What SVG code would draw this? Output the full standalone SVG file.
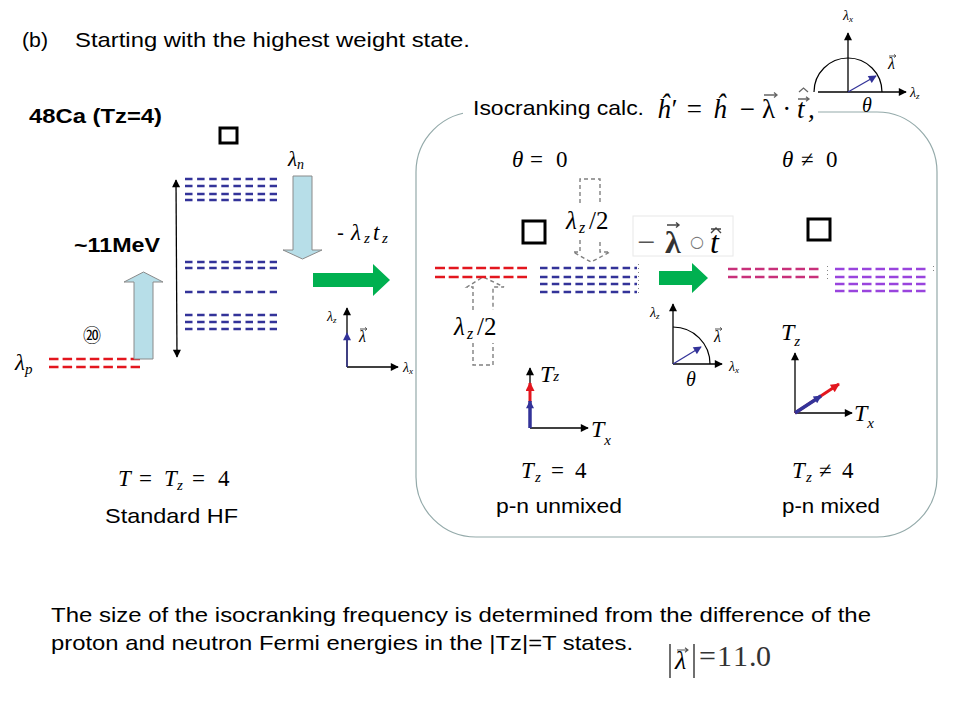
<svg xmlns="http://www.w3.org/2000/svg" width="960" height="720" viewBox="0 0 960 720">
<style>
.t{font-family:"Liberation Sans",Arial,sans-serif;fill:#000;font-size:21px}
.b{font-weight:bold}
.m{font-family:"Liberation Serif","Times New Roman",serif;font-style:italic;fill:#000}
.u{font-family:"Liberation Serif","Times New Roman",serif;font-style:normal}
.ax{stroke:#000;stroke-width:1.3;fill:none;marker-end:url(#ak)}
.vb{stroke:#333399;stroke-width:1.3;fill:none;marker-end:url(#ab)}
.lb{stroke:#333399;stroke-width:2.5;fill:none}
.lr{stroke:#E3161E;stroke-width:2.5;fill:none}
.lm{stroke:#C8307A;stroke-width:2.5;fill:none}
.lp{stroke:#9944DD;stroke-width:2.5;fill:none}
.gd{stroke:#808080;stroke-width:1.4;fill:none;stroke-dasharray:4 3}
.sq{fill:none;stroke:#000;stroke-width:3}
.acc{stroke:#555;stroke-width:1;fill:none}
.big{fill:#B7DEE8;stroke:#8a8a8a;stroke-width:1}
.grn{fill:#00B050}
</style>
<defs>
<marker id="ak" viewBox="0 0 10 10" refX="9" refY="5" markerWidth="9" markerHeight="8" orient="auto" markerUnits="userSpaceOnUse"><path d="M0,0L10,5L0,10z" fill="#000"/></marker>
<marker id="ab" viewBox="0 0 10 10" refX="9" refY="5" markerWidth="10" markerHeight="8" orient="auto" markerUnits="userSpaceOnUse"><path d="M0,0L10,5L0,10z" fill="#333399"/></marker>
<marker id="ar" viewBox="0 0 10 10" refX="9" refY="5" markerWidth="10" markerHeight="9" orient="auto" markerUnits="userSpaceOnUse"><path d="M0,0L10,5L0,10z" fill="#E3161E"/></marker>
<marker id="ad" viewBox="0 0 10 10" refX="9" refY="5" markerWidth="9" markerHeight="8" orient="auto-start-reverse" markerUnits="userSpaceOnUse"><path d="M0,0L10,5L0,10z" fill="#000"/></marker>
</defs>
<rect width="960" height="720" fill="#fff"/>

<g id="title">
<text class="t" x="22" y="47" textLength="26" lengthAdjust="spacingAndGlyphs">(b)</text>
<text class="t" x="75" y="47" textLength="395" lengthAdjust="spacingAndGlyphs">Starting with the highest weight state.</text>
</g>

<g id="hf-levels">
<text class="t b" x="29" y="123" textLength="133" lengthAdjust="spacingAndGlyphs">48Ca (Tz=4)</text>
<rect class="sq" x="220" y="128" width="17" height="15" stroke-width="2.5"/>
<g class="lb" stroke-dasharray="7.5 4.6">
<line x1="185" y1="179" x2="277" y2="179"/>
<line x1="185" y1="186" x2="277" y2="186"/>
<line x1="185" y1="194" x2="277" y2="194"/>
<line x1="185" y1="200" x2="277" y2="200"/>
<line x1="185" y1="262" x2="277" y2="262"/>
<line x1="185" y1="268" x2="277" y2="268"/>
<line x1="185" y1="292" x2="277" y2="292"/>
<line x1="185" y1="315" x2="277" y2="315"/>
<line x1="185" y1="322" x2="277" y2="322"/>
<line x1="185" y1="329" x2="277" y2="329"/>
</g>
<g class="lr" stroke-dasharray="9.5 4.1">
<line x1="49" y1="359" x2="140" y2="359"/>
<line x1="49" y1="367" x2="140" y2="367"/>
</g>
<text class="m" x="15" y="370" font-size="23">λ<tspan font-size="15" dy="4">p</tspan></text>
<text class="m" x="288" y="166" font-size="21">λ<tspan font-size="14" dy="3">n</tspan></text>
<text x="92" y="342" text-anchor="middle" font-family="'Noto Sans CJK JP','DejaVu Sans',sans-serif" font-size="18">⑳</text>
<text class="t b" x="74" y="252" textLength="86" lengthAdjust="spacingAndGlyphs">~11MeV</text>
<line x1="176" y1="180" x2="177" y2="357" stroke="#000" stroke-width="1.3" marker-start="url(#ad)" marker-end="url(#ad)"/>
<text y="240" font-size="23"><tspan class="t" x="337" font-size="21">-</tspan><tspan class="m" x="351">λ</tspan><tspan class="m" x="364" font-size="15" dy="3">z</tspan><tspan class="m" x="373" dy="-3">t</tspan><tspan class="m" x="382" font-size="15" dy="3">z</tspan></text>
<g id="axes-left">
<line class="ax" x1="347" y1="367" x2="347" y2="308"/>
<line class="ax" x1="347" y1="367" x2="398" y2="367"/>
<line class="vb" x1="347" y1="367" x2="347" y2="333"/>
<text class="m" x="327" y="321" font-size="14">λ<tspan font-size="9" dy="2">z</tspan></text>
<text class="m" x="359" y="342" font-size="16" fill="#444">λ</text>
<path class="acc" d="M360,329h7m-2,-1.6l2,1.6l-2,1.6"/>
<text class="m" x="403" y="372" font-size="14">λ<tspan font-size="9" dy="2">x</tspan></text>
</g>
<text y="486" font-size="23"><tspan class="m" x="118">T</tspan><tspan class="u" x="139">=</tspan><tspan class="m" x="164">T</tspan><tspan class="m" x="177" font-size="15" dy="4">z</tspan><tspan class="u" x="192" dy="-4">=</tspan><tspan class="u" x="218">4</tspan></text>
<text class="t" x="105" y="523" textLength="133" lengthAdjust="spacingAndGlyphs">Standard HF</text>
</g>

<g id="connectors">
<polygon class="big" points="134,359 134,282 124,282 143.5,272 163,282 153,282 153,359"/>
<polygon class="big" points="293,176 312,176 312,250 322,250 302.5,259 283,250 293,250"/>
<polygon class="grn" points="313,273 373,273 373,264 390,280 373,296 373,287 313,287"/>
<polygon class="grn" points="659,271 692,271 692,263 708,278 692,293 692,285 659,285"/>
</g>

<g id="isocranking">
<rect x="416" y="112" width="521" height="425" rx="60" ry="60" fill="none" stroke="#94AAAA" stroke-width="1.2"/>
<rect x="463" y="96" width="355" height="28" fill="#fff"/>
<text class="t" x="473" y="115" textLength="171" lengthAdjust="spacingAndGlyphs">Isocranking calc.</text>
<text class="m" font-size="27" fill="#666" x="657 670 685 713 738 762 783 797 808" y="118">ĥ′=ĥ−<tspan class="u">λ</tspan>·t,</text>
<path d="M764,95h13m-3,-2.5l3,2.5l-3,2.5" stroke="#666" stroke-width="1.3" fill="none"/>
<path d="M798,99h11m-3,-2.3l3,2.3l-3,2.3" stroke="#666" stroke-width="1.3" fill="none"/>
<path d="M799,92l4.5,-4l4.5,4" stroke="#666" stroke-width="1.3" fill="none"/>
<g id="axes-topright">
<line class="ax" x1="848" y1="92" x2="848" y2="33"/>
<line class="ax" x1="818" y1="92" x2="906" y2="92"/>
<path d="M814,92A34,34 0 0 1 882,92" fill="none" stroke="#000" stroke-width="1.2"/>
<line class="vb" x1="848" y1="92" x2="876" y2="76"/>
<text class="m" x="843" y="20" font-size="14">λ<tspan font-size="9" dy="2">x</tspan></text>
<text class="m" x="888" y="69" font-size="16" fill="#444">λ</text>
<path class="acc" d="M889,56h7m-2,-1.6l2,1.6l-2,1.6"/>
<text class="m" x="910" y="97" font-size="14">λ<tspan font-size="9" dy="2">z</tspan></text>
<text class="m" x="862" y="112" font-size="20">θ</text>
</g>
<text y="167" font-size="23"><tspan class="m" x="512">θ</tspan><tspan class="u" x="530">=</tspan><tspan class="u" x="556">0</tspan></text>
<text y="167" font-size="23"><tspan class="m" x="782">θ</tspan><tspan class="u" x="801">≠</tspan><tspan class="u" x="826">0</tspan></text>
<rect class="sq" x="523" y="221" width="22" height="22"/>
<rect class="sq" x="808" y="219" width="22" height="21"/>
<text y="229" font-size="25"><tspan class="m" x="566">λ</tspan><tspan class="m" x="579" font-size="16" dy="4">z</tspan><tspan class="u" x="589" dy="-4">/2</tspan></text>
<path class="gd" d="M580,203V179H600V203M580,240V252H573L591,262L610,252H600V240"/>
<text y="335" font-size="25"><tspan class="m" x="454">λ</tspan><tspan class="m" x="467" font-size="16" dy="4">z</tspan><tspan class="u" x="477" dy="-4">/2</tspan></text>
<path class="gd" d="M473,310V287H467L483,277L504,287H493V310M473,343V365H493V343"/>
<g class="lr" stroke-dasharray="10 3.7">
<line x1="435" y1="268" x2="527" y2="268"/>
<line x1="435" y1="277" x2="527" y2="277"/>
</g>
<g class="lb" stroke-dasharray="7.5 4.3">
<line x1="540" y1="268" x2="637" y2="268"/>
<line x1="540" y1="277" x2="637" y2="277"/>
<line x1="540" y1="284" x2="637" y2="284"/>
<line x1="540" y1="292" x2="637" y2="292"/>
</g>
<line x1="638.5" y1="264" x2="638.5" y2="295" stroke="#666" stroke-width="0.8" stroke-dasharray="1 3"/>
<rect x="633" y="216" width="100" height="40" fill="#fff" stroke="#e8e8e8" stroke-width="1"/>
<text x="637 665 690 710" y="253" font-size="32"><tspan class="u" fill="#555">−</tspan><tspan class="u" fill="#333" font-weight="bold">λ</tspan><tspan font-family="'DejaVu Sans',sans-serif" font-size="16" fill="#777" dy="-6">○</tspan><tspan class="m" fill="#333" dy="6">t</tspan></text>
<path d="M667,225h12m-3,-2.5l3,2.5l-3,2.5" stroke="#444" stroke-width="1.4" fill="none"/>
<path d="M711,233l5,-5l5,5M711,229h10" stroke="#444" stroke-width="1.4" fill="none"/>
<g class="lm" stroke-dasharray="9.5 4">
<line x1="728" y1="269" x2="822" y2="269"/>
<line x1="728" y1="277" x2="822" y2="277"/>
</g>
<line x1="827.5" y1="266" x2="827.5" y2="279" stroke="#666" stroke-width="0.8" stroke-dasharray="1 3"/>
<g class="lp" stroke-dasharray="9.5 4">
<line x1="835" y1="269" x2="927" y2="269"/>
<line x1="835" y1="277" x2="927" y2="277"/>
<line x1="835" y1="284" x2="927" y2="284"/>
<line x1="835" y1="291" x2="927" y2="291"/>
</g>
<line x1="933.5" y1="266" x2="933.5" y2="271" stroke="#666" stroke-width="0.8" stroke-dasharray="1 3"/>
<g id="axes-mid">
<line class="ax" x1="673" y1="364" x2="673" y2="304"/>
<line class="ax" x1="673" y1="364" x2="722" y2="364"/>
<path d="M673,327A37,37 0 0 1 710,364" fill="none" stroke="#000" stroke-width="1.2"/>
<line class="vb" x1="673" y1="364" x2="701" y2="347"/>
<text class="m" x="650" y="317" font-size="14">λ<tspan font-size="9" dy="2">z</tspan></text>
<text class="m" x="714" y="342" font-size="16" fill="#444">λ</text>
<path class="acc" d="M715,329h7m-2,-1.6l2,1.6l-2,1.6"/>
<text class="m" x="729" y="371" font-size="14">λ<tspan font-size="9" dy="2">x</tspan></text>
<text class="m" x="686" y="386" font-size="20">θ</text>
</g>
<g id="axes-unmixed">
<line class="ax" x1="530" y1="428" x2="530" y2="368"/>
<line class="ax" x1="530" y1="428" x2="588" y2="428"/>
<line x1="530" y1="402" x2="530" y2="383" stroke="#E3161E" stroke-width="3" marker-end="url(#ar)"/>
<line x1="530" y1="428" x2="530" y2="401" stroke="#333399" stroke-width="3.5" marker-end="url(#ab)"/>
<text class="m" x="540" y="382" font-size="24">T<tspan font-size="15" dy="-1">z</tspan></text>
<text class="m" x="591" y="437" font-size="24">T<tspan font-size="15" dy="8">x</tspan></text>
</g>
<text y="478" font-size="23"><tspan class="m" x="521">T</tspan><tspan class="m" x="535" font-size="15" dy="4">z</tspan><tspan class="u" x="551" dy="-4">=</tspan><tspan class="u" x="575">4</tspan></text>
<text class="t" x="496" y="513" textLength="126" lengthAdjust="spacingAndGlyphs">p-n unmixed</text>
<g id="axes-mixed">
<line class="ax" x1="795" y1="413" x2="795" y2="353"/>
<line class="ax" x1="795" y1="413" x2="852" y2="413"/>
<line x1="795" y1="413" x2="839" y2="384" stroke="#E3161E" stroke-width="3" marker-end="url(#ar)"/>
<line x1="795" y1="413" x2="821" y2="396" stroke="#333399" stroke-width="3.5" marker-end="url(#ab)"/>
<text class="m" x="781" y="340" font-size="24">T<tspan font-size="15" dy="6">z</tspan></text>
<text class="m" x="854" y="421" font-size="24">T<tspan font-size="15" dy="7">x</tspan></text>
</g>
<text y="478" font-size="23"><tspan class="m" x="792">T</tspan><tspan class="m" x="806" font-size="15" dy="4">z</tspan><tspan class="u" x="819" dy="-4">≠</tspan><tspan class="u" x="842">4</tspan></text>
<text class="t" x="782" y="513" textLength="98" lengthAdjust="spacingAndGlyphs">p-n mixed</text>
</g>

<g id="footer">
<text class="t" x="51" y="622" textLength="820" lengthAdjust="spacingAndGlyphs">The size of the isocranking frequency is determined from the difference of the</text>
<text class="t" x="51" y="650" textLength="582" lengthAdjust="spacingAndGlyphs">proton and neutron Fermi energies in the |Tz|=T states.</text>
<line x1="670" y1="644" x2="670" y2="678" stroke="#222" stroke-width="1.3"/>
<line x1="694" y1="644" x2="694" y2="678" stroke="#222" stroke-width="1.3"/>
<text class="m" x="675" y="669" font-size="26" fill="#333">λ</text>
<path d="M677,650h11m-3,-2.3l3,2.3l-3,2.3" stroke="#555" stroke-width="1.1" fill="none"/>
<text class="u" x="699 717 733 749 756" y="666" font-size="30" fill="#333">=11.0</text>
</g>
</svg>
